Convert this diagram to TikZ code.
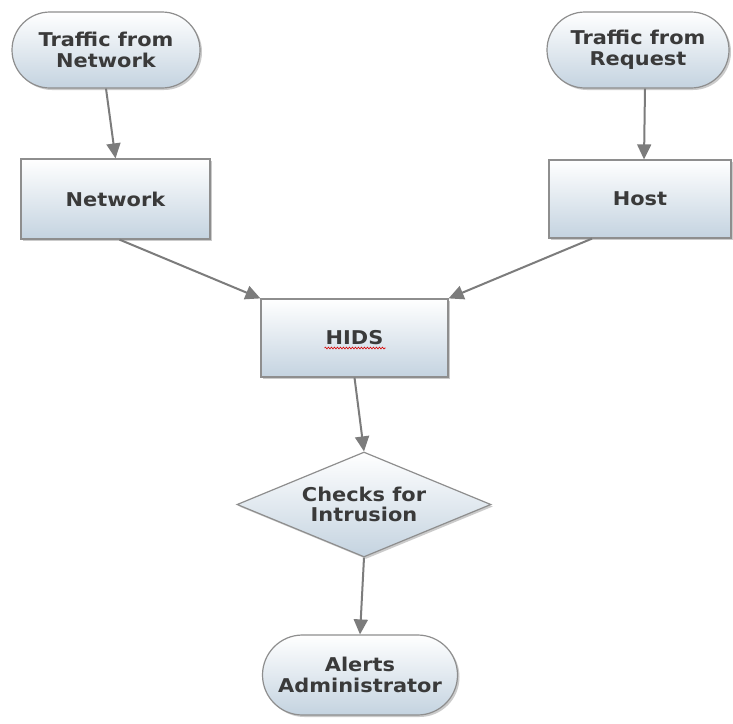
\documentclass[tikz,border=0pt]{standalone}
\usepackage{fontspec}
\newfontfamily\lblfont{DejaVu Sans}[FakeStretch=1.1]
\usetikzlibrary{arrows.meta,shapes.geometric,shadows,decorations.pathmorphing}

\definecolor{edgegray}{HTML}{7C7C7C}
\definecolor{bordergray}{HTML}{8E8E8E}
\definecolor{fillbottom}{HTML}{C4D3E0}
\definecolor{textgray}{HTML}{3A3A3A}

\tikzset{
  base/.style={draw=bordergray, line width=1.2pt, top color=white, bottom color=fillbottom,
    text=textgray, font=\lblfont\bfseries\fontsize{19}{20.5}\selectfont, align=center,
    inner sep=0pt, drop shadow={shadow xshift=2pt, shadow yshift=-2pt, fill=black!45, opacity=0.45}},
  terminal/.style={base, rounded corners=38pt},
  procbox/.style={base},
  decision/.style={base, diamond, aspect=2.4},
  flow/.style={draw=edgegray, line width=2pt, -{Triangle[length=15pt,width=14pt]}}
}

\begin{document}
\begin{tikzpicture}[x=1pt,y=-1pt]
  \useasboundingbox[fill=white] (0,0) rectangle (733,723);

  % entry points
  \node[terminal, minimum width=188pt, minimum height=76pt] (tnet) at (106,50) {Traffic from\\Network};
  \node[terminal, minimum width=182pt, minimum height=76pt] (treq) at (638,50) {Traffic from\\Request};

  % sources
  \node[procbox, minimum width=189pt, minimum height=80pt] (net) at (115.5,199) {Network};
  \node[procbox, minimum width=182pt, minimum height=78pt] (host) at (640,199) {Host};

  % detection system
  \node[procbox, minimum width=187pt, minimum height=78pt] (hids) at (354.5,338) {HIDS};
  \draw[red!85!black, line width=0.6pt, decorate,
        decoration={snake, amplitude=0.9pt, segment length=3pt}]
    ([xshift=-30pt,yshift=-10pt]hids.center) -- ([xshift=31pt,yshift=-10pt]hids.center);

  % decision and outcome
  \node[decision, minimum width=254pt, minimum height=105pt] (chk) at (364,504.5) {Checks for\\Intrusion};
  \node[terminal, minimum width=195pt, minimum height=80pt, rounded corners=40pt] (alert) at (360,675) {Alerts\\Administrator};

  % connectors
  \draw[flow] (tnet.south) -- (net.north);
  \draw[flow] ([xshift=7pt]treq.south) -- ([xshift=4pt]host.north);
  \draw[flow] ([xshift=4pt]net.south) -- (hids.north west);
  \draw[flow] ([xshift=-48pt]host.south) -- (hids.north east);
  \draw[flow] (hids.south) -- (chk.north);
  \draw[flow] (chk.south) -- (alert.north);
\end{tikzpicture}
\end{document}
